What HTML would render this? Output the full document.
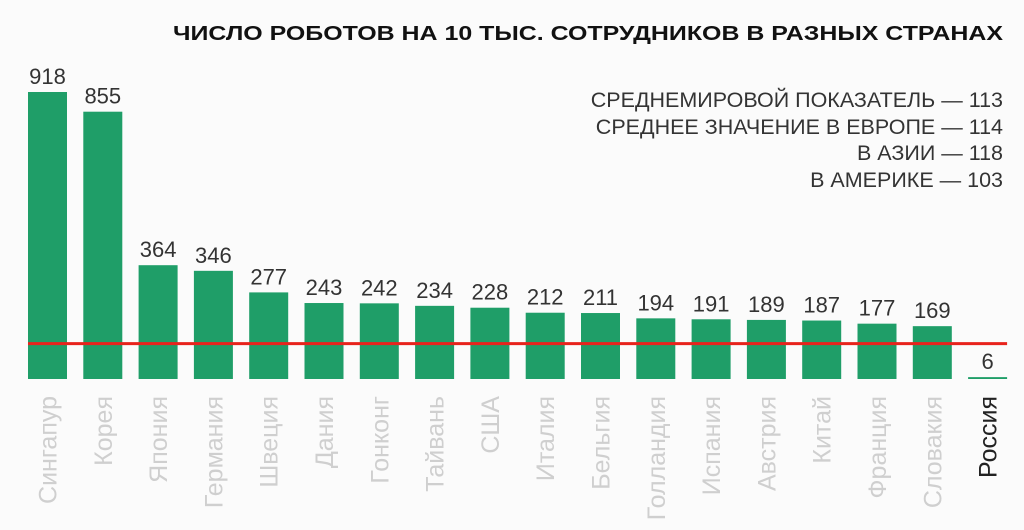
<!DOCTYPE html>
<html><head><meta charset="utf-8"><style>
html,body{margin:0;padding:0;background:#fbfbfb;}
svg{display:block;font-family:"Liberation Sans",sans-serif;}
</style></head><body>
<svg id="chart" width="1024" height="530" viewBox="0 0 1024 530">
<text x="1003" y="40" text-anchor="end" font-size="20" font-weight="bold" fill="#111" textLength="830" lengthAdjust="spacingAndGlyphs">ЧИСЛО РОБОТОВ НА 10 ТЫС. СОТРУДНИКОВ В РАЗНЫХ СТРАНАХ</text>
<g font-size="21.5" fill="#333" text-anchor="end">
<text x="1003" y="107">СРЕДНЕМИРОВОЙ ПОКАЗАТЕЛЬ — 113</text>
<text x="1003" y="134">СРЕДНЕЕ ЗНАЧЕНИЕ В ЕВРОПЕ — 114</text>
<text x="1003" y="160">В АЗИИ — 118</text>
<text x="1003" y="187">В АМЕРИКЕ — 103</text>
</g>
<g id="bars"></g>
</svg>
<script>
const categories = ["Сингапур","Корея","Япония","Германия","Швеция","Дания","Гонконг","Тайвань","США","Италия","Бельгия","Голландия","Испания","Австрия","Китай","Франция","Словакия","Россия"];
const values = [918,855,364,346,277,243,242,234,228,212,211,194,191,189,187,177,169,6];
const worldAverage = 113;

const NS = "http://www.w3.org/2000/svg";
const baseY = 379, scale = 287/918, x0 = 28, pitch = 55.3, bw = 39;
const y = v => baseY - v*scale;
const x = i => x0 + i*pitch;
const g = document.getElementById('bars');
categories.forEach((c,i)=>{
  const r = document.createElementNS(NS,'rect');
  r.setAttribute('x', x(i)); r.setAttribute('y', y(values[i]));
  r.setAttribute('width', bw); r.setAttribute('height', baseY - y(values[i]));
  r.setAttribute('fill', '#1f9e68');
  
  
  g.appendChild(r);
  const t = document.createElementNS(NS,'text');
  t.setAttribute('x', x(i)+bw/2); t.setAttribute('y', y(values[i]) - 8);
  t.setAttribute('text-anchor','middle'); t.setAttribute('font-size','22'); t.setAttribute('fill','#333');
  t.textContent = values[i];
  
  
  g.appendChild(t);
  const l = document.createElementNS(NS,'text');
  const lx = x(i)+bw/2+9, ly = 396;
  l.setAttribute('x', lx); l.setAttribute('y', ly);
  l.setAttribute('transform', 'rotate(-90 '+lx+' '+ly+')');
  l.setAttribute('text-anchor','end'); l.setAttribute('font-size','25');
  l.setAttribute('fill', i === categories.length-1 ? '#222' : '#cfcfcf');
  l.textContent = c;
  
  
  g.appendChild(l);
});
const line = document.createElementNS(NS,'line');
line.setAttribute('x1', x0); line.setAttribute('x2', x(categories.length-1)+bw);
line.setAttribute('y1', y(worldAverage)); line.setAttribute('y2', y(worldAverage));
line.setAttribute('stroke','#e8231c'); line.setAttribute('stroke-width','3');


g.appendChild(line);
</script>
</body></html>
